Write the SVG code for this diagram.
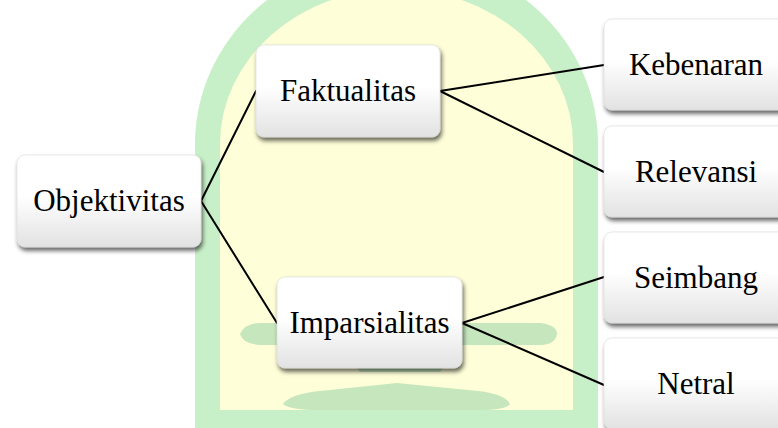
<svg xmlns="http://www.w3.org/2000/svg" width="778" height="428" viewBox="0 0 778 428">
<defs>
<linearGradient id="boxg" x1="0" y1="0" x2="0" y2="1">
<stop offset="0" stop-color="#ffffff"/>
<stop offset="0.45" stop-color="#ffffff"/>
<stop offset="1" stop-color="#e2e2e2"/>
</linearGradient>
<filter id="sh" x="-10%" y="-10%" width="125%" height="135%">
<feDropShadow dx="1.5" dy="3.5" stdDeviation="2" flood-color="#000" flood-opacity="0.6"/>
</filter>
</defs>
<style>
.box{fill:url(#boxg);stroke:#d8d8d8;stroke-width:0.6;filter:url(#sh)}
.lbl{font-size:31px;fill:#000;text-anchor:middle}
.con{stroke:#000;stroke-width:2;fill:none;stroke-linecap:round}
.wmg{fill:#c8f0c8}
.wmy{fill:#fefed8}
.wmd{fill:#c6e6bd}
</style>
<rect width="778" height="428" fill="#ffffff"/>
<g id="watermark">
<path class="wmg" d="M195,428 L195,144 A201.5,188 0 0 1 598,144 L598,428 Z"/>
<path class="wmy" d="M220,410 L220,144 A176.5,155 0 0 1 573,144 L573,410 Z"/>
<rect class="wmg" x="195" y="410" width="403" height="18"/>
<path class="wmd" d="M240,334 Q245,323 260,323 L540,323 Q557,325 557,334 Q555,345 540,345 L460,345 L440,372 L360,372 L340,345 L260,345 Q243,344 240,334 Z"/>
<path class="wmd" d="M283,404 Q290,394 320,391 L397,383 L478,391 Q505,394 510,404 Q505,410 480,410 L320,410 Q290,410 283,404 Z"/>
</g>
<g id="connectors">
<line class="con" x1="201" y1="201" x2="256" y2="91"/>
<line class="con" x1="201" y1="201" x2="277" y2="323"/>
<line class="con" x1="440" y1="91" x2="604" y2="65"/>
<line class="con" x1="440" y1="91" x2="604" y2="172"/>
<line class="con" x1="462" y1="323" x2="604" y2="277"/>
<line class="con" x1="462" y1="323" x2="604" y2="385"/>
</g>
<g font-family="'Liberation Serif', 'Times New Roman', 'DejaVu Serif', serif">
<g id="node-objektivitas">
<rect class="box" x="17" y="155" width="184" height="92" rx="8"/>
<text class="lbl" x="109" y="211">Objektivitas</text>
</g>
<g id="node-faktualitas">
<rect class="box" x="256" y="45" width="184" height="92" rx="8"/>
<text class="lbl" x="348" y="101">Faktualitas</text>
</g>
<g id="node-imparsialitas">
<rect class="box" x="277" y="277" width="185" height="91" rx="8"/>
<text class="lbl" x="369.5" y="333">Imparsialitas</text>
</g>
<g id="node-kebenaran">
<rect class="box" x="604" y="19" width="184" height="91" rx="8"/>
<text class="lbl" x="696" y="75">Kebenaran</text>
</g>
<g id="node-relevansi">
<rect class="box" x="604" y="126" width="184" height="91" rx="8"/>
<text class="lbl" x="696" y="182">Relevansi</text>
</g>
<g id="node-seimbang">
<rect class="box" x="604" y="232" width="184" height="91" rx="8"/>
<text class="lbl" x="696" y="288">Seimbang</text>
</g>
<g id="node-netral">
<rect class="box" x="604" y="338" width="184" height="91" rx="8"/>
<text class="lbl" x="696" y="394">Netral</text>
</g>
</g>
</svg>
